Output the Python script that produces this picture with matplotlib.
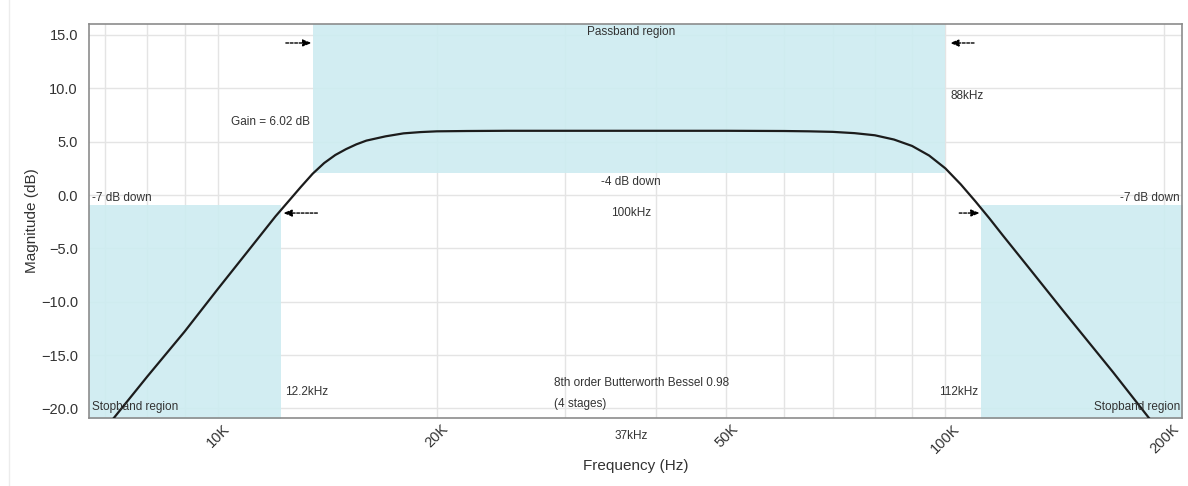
import matplotlib
matplotlib.use("Agg")
import matplotlib.pyplot as plt
from matplotlib.ticker import FuncFormatter, FixedLocator, NullFormatter
from matplotlib.lines import Line2D

plt.rcParams["font.family"] = ["Liberation Sans", "DejaVu Sans"]

# magnitude response
freq_hz = [7000, 8000, 9000, 10000, 11000, 12000, 12500, 13000, 13500, 14000,
           14500, 15000, 15500, 16000, 17000, 18000, 19000, 20000, 22000, 25000,
           30000, 40000, 50000, 60000, 65000, 70000, 75000, 80000, 85000, 90000,
           95000, 100000, 105000, 110000, 115000, 120000, 130000, 145000, 170000,
           190000, 210000]
mag_db = [-21.9, -17.0, -12.8, -8.8, -5.25, -2.0, -0.6, 0.75, 2.0, 3.0,
          3.75, 4.3, 4.75, 5.1, 5.5, 5.78, 5.9, 5.97, 6.0, 6.02,
          6.02, 6.02, 6.02, 6.0, 5.97, 5.92, 5.8, 5.6, 5.2, 4.6,
          3.7, 2.5, 1.0, -0.6, -2.2, -3.8, -6.75, -10.8, -16.6,
          -20.8, -24.5]

# shaded regions
passband_f = [13500, 100000]
passband_floor = 2.02
stop_left_edge = 12200
stop_right_edge = 112000
stop_ceiling = -0.98

xtick_vals = [10000, 20000, 50000, 100000, 200000]
xtick_labels = ["10K", "20K", "50K", "100K", "200K"]
ytick_vals = [15, 10, 5, 0, -5, -10, -15, -20]
vgrid_vals = [7000, 8000, 9000, 10000, 20000, 30000, 40000, 50000, 60000,
              70000, 80000, 90000, 100000, 200000]

xmin, xmax = 6650, 211500
ymin, ymax = -20.9, 16.03

fig = plt.figure(figsize=(11.88, 4.86), dpi=100)
ax = fig.add_axes([89 / 1188, 1 - 418 / 486, (1182 - 89) / 1188, (418 - 24) / 486])
ax.set_xscale("log")
ax.set_xlim(xmin, xmax)
ax.set_ylim(ymin, ymax)

# grid
for v in vgrid_vals:
    ax.axvline(v, color="#e4e4e4", lw=1, zorder=0)
for v in ytick_vals:
    ax.axhline(v, color="#e4e4e4", lw=1, zorder=0)

shade = "#cdecf1"
ax.fill_between(passband_f, passband_floor, ymax + 1, color=shade, alpha=0.9, lw=0, zorder=1)
ax.fill_between([xmin * 0.9, stop_left_edge], ymin - 1, stop_ceiling, color=shade, alpha=0.9, lw=0, zorder=1)
ax.fill_between([stop_right_edge, xmax * 1.1], ymin - 1, stop_ceiling, color=shade, alpha=0.9, lw=0, zorder=1)

ax.plot(freq_hz, mag_db, color="#1c1c1c", lw=1.6, zorder=3, solid_joinstyle="round")

# axes styling
for s in ax.spines.values():
    s.set_color("#8c8c8c")
    s.set_linewidth(1.2)
ax.xaxis.set_major_locator(FixedLocator(xtick_vals))
ax.xaxis.set_minor_formatter(NullFormatter())
ax.xaxis.set_minor_locator(FixedLocator([]))
ax.set_xticklabels(xtick_labels, rotation=45, ha="center", fontsize=10, color="#333333")
ax.set_yticks(ytick_vals)
ax.yaxis.set_major_formatter(FuncFormatter(lambda v, p: f"{v:.1f}".replace("-", "\u2212")))
ax.tick_params(axis="both", length=0, labelsize=10.5, colors="#333333")
ax.tick_params(axis="x", pad=3)
ax.tick_params(axis="y", pad=8)

ax.set_xlabel("Frequency (Hz)", fontsize=11, color="#333333", labelpad=2)
ax.set_ylabel("Magnitude (dB)", fontsize=11, color="#333333", labelpad=1)

fs = 8.5
tc = "#333333"
ax.text(37000, 15.3, "Passband region", ha="center", va="center", fontsize=fs, color=tc)
ax.text(13400, 6.85, "Gain = 6.02 dB", ha="right", va="center", fontsize=fs, color=tc)
ax.text(37000, 1.22, "-4 dB down", ha="center", va="center", fontsize=fs, color=tc)
ax.text(37000, -1.7, "100kHz", ha="center", va="center", fontsize=fs, color=tc)
ax.text(6720, -0.28, "-7 dB down", ha="left", va="center", fontsize=fs, color=tc)
ax.text(210000, -0.28, "-7 dB down", ha="right", va="center", fontsize=fs, color=tc)
ax.text(101500, 9.28, "88kHz", ha="left", va="center", fontsize=fs, color=tc)
ax.text(12350, -18.5, "12.2kHz", ha="left", va="center", fontsize=fs, color=tc)
ax.text(111000, -18.5, "112kHz", ha="right", va="center", fontsize=fs, color=tc)
ax.text(6720, -19.9, "Stopband region", ha="left", va="center", fontsize=fs, color=tc)
ax.text(210000, -19.9, "Stopband region", ha="right", va="center", fontsize=fs, color=tc)
ax.text(28970, -17.6, "8th order Butterworth Bessel 0.98", ha="left", va="center", fontsize=fs, color=tc)
ax.text(28970, -19.6, "(4 stages)", ha="left", va="center", fontsize=fs, color=tc)
ax.text(37000, -0.03, "37kHz", transform=ax.get_xaxis_transform(), ha="center", va="top",
        fontsize=fs, color=tc)

# dashed pointer arrows
arrow = dict(arrowstyle="-|>,head_length=0.5,head_width=0.2", color="black",
             lw=1, linestyle=(0, (2, 1.2)), shrinkA=0, shrinkB=0)
ax.annotate("", xy=(13450, 14.25), xytext=(12400, 14.25), arrowprops=arrow)
ax.annotate("", xy=(101500, 14.25), xytext=(109500, 14.25), arrowprops=arrow)
ax.annotate("", xy=(12300, -1.69), xytext=(13700, -1.69), arrowprops=arrow)
ax.annotate("", xy=(111500, -1.69), xytext=(104500, -1.69), arrowprops=arrow)

fig.add_artist(Line2D([9 / 1188, 9 / 1188], [0, 1], color="#ececec", lw=1))

fig.savefig("out.png", dpi=100)
